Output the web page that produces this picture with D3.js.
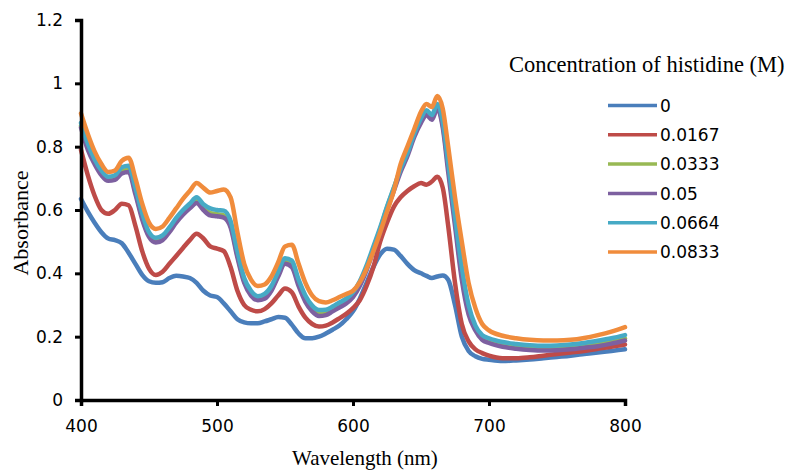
<!DOCTYPE html>
<html>
<head>
<meta charset="utf-8">
<script src="https://cdn.jsdelivr.net/npm/d3@7"></script>
<style>
  body { margin: 0; background: #fff; }
  #chart { width: 786px; height: 471px; }
</style>
</head>
<body>
<div id="chart"></div>
<script>
// wavelengths (nm), shared by all series
var wavelengths = [400,405,410,415,420,425,430,435,440,445,450,455,460,465,470,475,480,485,490,495,
  500,505,510,515,520,525,530,535,540,545,550,555,560,565,570,575,580,585,590,595,
  600,605,610,615,620,625,630,635,640,645,650,654,658,662,666,670,675,680,685,690,695,
  700,710,720,730,740,750,760,770,780,790,800];

var conc0 = [0.635,0.595,0.56,0.53,0.51,0.505,0.495,0.465,0.43,0.395,0.375,0.37,0.372,0.385,0.392,0.39,0.385,0.37,0.345,0.33,
  0.325,0.305,0.28,0.255,0.245,0.242,0.242,0.248,0.255,0.262,0.26,0.238,0.21,0.195,0.195,0.2,0.21,0.222,0.235,0.255,
  0.28,0.32,0.37,0.42,0.46,0.478,0.475,0.455,0.43,0.41,0.4,0.392,0.385,0.39,0.393,0.38,0.3,0.2,0.155,0.138,0.13,
  0.127,0.123,0.125,0.128,0.132,0.136,0.14,0.145,0.15,0.155,0.16];

var conc0167 = [0.79,0.71,0.645,0.6,0.588,0.6,0.62,0.615,0.55,0.47,0.415,0.395,0.405,0.43,0.455,0.48,0.505,0.525,0.51,0.485,
  0.478,0.47,0.42,0.345,0.3,0.285,0.28,0.287,0.305,0.33,0.352,0.34,0.295,0.26,0.24,0.232,0.235,0.245,0.258,0.272,
  0.29,0.315,0.36,0.42,0.5,0.56,0.61,0.64,0.66,0.675,0.685,0.68,0.69,0.705,0.67,0.55,0.37,0.24,0.185,0.16,0.148,
  0.14,0.132,0.132,0.135,0.14,0.145,0.15,0.155,0.162,0.168,0.175];

var conc0333 = [0.865,0.797,0.75,0.715,0.697,0.7,0.722,0.727,0.657,0.577,0.52,0.502,0.51,0.535,0.565,0.59,0.61,0.628,0.607,0.59,
  0.587,0.583,0.552,0.458,0.375,0.335,0.32,0.325,0.35,0.395,0.437,0.428,0.368,0.318,0.287,0.272,0.274,0.286,0.298,0.311,
  0.331,0.366,0.418,0.478,0.54,0.608,0.668,0.728,0.778,0.838,0.885,0.908,0.893,0.925,0.868,0.735,0.565,0.395,0.28,0.225,0.195,
  0.185,0.173,0.167,0.163,0.161,0.162,0.165,0.17,0.176,0.184,0.194];

var conc05 = [0.86,0.79,0.745,0.71,0.692,0.695,0.715,0.72,0.65,0.57,0.515,0.497,0.505,0.53,0.56,0.585,0.605,0.622,0.6,0.583,
  0.58,0.576,0.545,0.45,0.37,0.33,0.315,0.32,0.345,0.39,0.43,0.42,0.36,0.31,0.28,0.265,0.268,0.28,0.292,0.305,
  0.325,0.36,0.41,0.47,0.53,0.6,0.66,0.72,0.77,0.83,0.875,0.9,0.885,0.92,0.86,0.72,0.55,0.38,0.27,0.22,0.19,
  0.18,0.168,0.162,0.158,0.156,0.157,0.16,0.165,0.17,0.178,0.188];

var conc0664 = [0.875,0.81,0.76,0.725,0.705,0.71,0.735,0.74,0.67,0.59,0.53,0.512,0.52,0.545,0.575,0.6,0.62,0.64,0.618,0.605,
  0.6,0.598,0.565,0.47,0.385,0.345,0.328,0.335,0.36,0.405,0.448,0.44,0.38,0.33,0.298,0.284,0.285,0.295,0.308,0.32,
  0.34,0.375,0.425,0.485,0.545,0.61,0.67,0.73,0.78,0.84,0.89,0.915,0.9,0.935,0.88,0.75,0.58,0.42,0.3,0.235,0.205,
  0.195,0.183,0.177,0.173,0.171,0.172,0.175,0.18,0.187,0.195,0.205];

var conc0833 = [0.905,0.84,0.785,0.745,0.72,0.725,0.755,0.765,0.7,0.62,0.56,0.54,0.548,0.575,0.605,0.635,0.66,0.685,0.67,0.655,
  0.66,0.665,0.64,0.53,0.43,0.38,0.36,0.365,0.39,0.435,0.485,0.49,0.43,0.37,0.33,0.312,0.308,0.315,0.325,0.335,
  0.345,0.372,0.415,0.47,0.53,0.595,0.66,0.745,0.8,0.855,0.91,0.935,0.925,0.96,0.92,0.8,0.64,0.5,0.37,0.29,0.24,
  0.22,0.203,0.195,0.19,0.188,0.188,0.19,0.196,0.205,0.216,0.23];

var seriesNames = ["0", "0.0167", "0.0333", "0.05", "0.0664", "0.0833"];
var seriesValues = [conc0, conc0167, conc0333, conc05, conc0664, conc0833];
var seriesColors = ["#4a7ebb", "#be4b48", "#98b954", "#7d60a0", "#46aac5", "#f08c3c"];

var xTicks = [400, 500, 600, 700, 800];
var yTicks = [0, 0.2, 0.4, 0.6, 0.8, 1, 1.2];

var svg = d3.select("#chart").append("svg")
    .attr("width", 786)
    .attr("height", 471);

var x = d3.scaleLinear()
    .domain([400, 800])
    .range([81, 625]);

var y = d3.scaleLinear()
    .domain([0, 1.2])
    .range([400, 20]);

var line = d3.line()
    .x(function(d) { return x(d[0]); })
    .y(function(d) { return y(d[1]); })
    .curve(d3.curveMonotoneX);

// curves
seriesValues.forEach(function(vals, i) {
    svg.append("path")
        .datum(wavelengths.map(function(w, j) { return [w, vals[j]]; }))
        .attr("fill", "none")
        .attr("stroke", seriesColors[i])
        .attr("stroke-width", 4.5)
        .attr("stroke-linejoin", "round")
        .attr("stroke-linecap", "round")
        .attr("d", line);
});

var tickFont = "'DejaVu Sans', sans-serif";
var serifFont = "'Liberation Serif', 'Times New Roman', serif";

var xAxis = d3.axisBottom(x)
    .tickValues(xTicks)
    .tickSize(6)
    .tickPadding(14)
    .tickFormat(d3.format("d"));

var yAxis = d3.axisLeft(y)
    .tickValues(yTicks)
    .tickSize(6)
    .tickPadding(12)
    .tickFormat(function(d) { return String(d); });

var gx = svg.append("g")
    .attr("transform", "translate(0,400)")
    .call(xAxis);

var gy = svg.append("g")
    .attr("transform", "translate(81,0)")
    .call(yAxis);

[gx, gy].forEach(function(g) {
    g.select(".domain").attr("stroke", "#000").attr("stroke-width", 3.5);
    g.selectAll(".tick line").attr("stroke", "#000").attr("stroke-width", 3);
    g.selectAll(".tick text")
        .attr("fill", "#000")
        .style("font-family", tickFont)
        .style("font-size", "17px");
});

// axis titles
svg.append("text")
    .attr("x", 292)
    .attr("y", 465)
    .style("font-family", serifFont)
    .style("font-size", "21px")
    .style("fill", "#000")
    .text("Wavelength (nm)");

svg.append("text")
    .attr("transform", "rotate(-90)")
    .attr("x", -223)
    .attr("y", 28)
    .attr("text-anchor", "middle")
    .style("font-family", serifFont)
    .style("font-size", "22px")
    .style("fill", "#000")
    .text("Absorbance");

// legend
svg.append("text")
    .attr("x", 509)
    .attr("y", 72)
    .style("font-family", serifFont)
    .style("font-size", "22.5px")
    .style("fill", "#000")
    .text("Concentration of histidine (M)");

var legend = svg.append("g");
seriesNames.forEach(function(name, i) {
    var ly = 105.5 + i * 29.3;
    legend.append("line")
        .attr("x1", 608).attr("x2", 657)
        .attr("y1", ly).attr("y2", ly)
        .attr("stroke", seriesColors[i])
        .attr("stroke-width", 3.5);
    legend.append("text")
        .attr("x", 660)
        .attr("y", ly)
        .attr("dy", "0.36em")
        .style("font-family", tickFont)
        .style("font-size", "17px")
        .style("fill", "#000")
        .text(name);
});
</script>
</body>
</html>
